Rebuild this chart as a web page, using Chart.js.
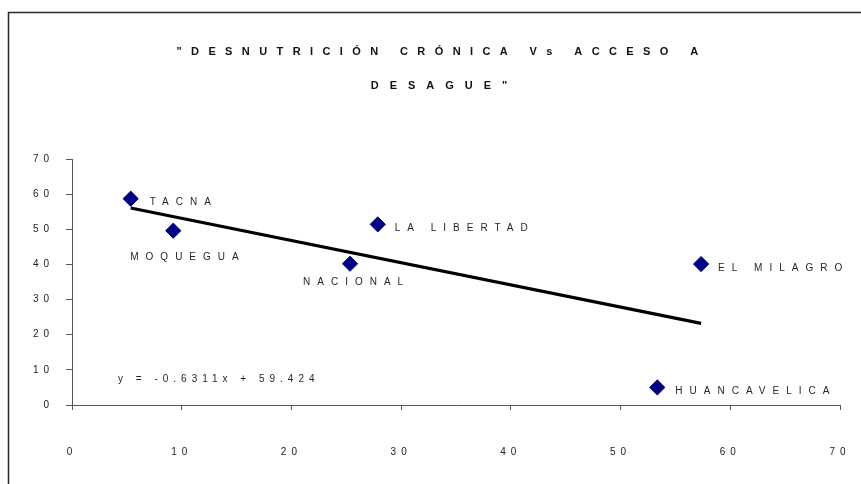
<!DOCTYPE html>
<html>
<head>
<meta charset="utf-8">
<title>Desnutrición crónica vs acceso a desagüe</title>
<script src="https://cdn.jsdelivr.net/npm/chart.js@4.4.1/dist/chart.umd.min.js"></script>
<style>
  html, body { margin: 0; padding: 0; background: #ffffff; }
  canvas { display: block; }
</style>
</head>
<body>
<canvas id="grafico" width="861" height="484"></canvas>
<script>
// Regiones y sus valores (eje X: acceso a desagüe, eje Y: desnutrición crónica)
const regiones = ['TACNA', 'MOQUEGUA', 'NACIONAL', 'LA LIBERTAD', 'EL MILAGRO', 'HUANCAVELICA'];
const acceso = [5.35, 9.23, 25.34, 27.87, 57.34, 53.35];
const desnutricion = [58.7, 49.6, 40.2, 51.4, 40.1, 5.0];

// Línea de tendencia lineal
const pendiente = -0.6311;
const intercepto = 59.424;

// Marcas de los ejes
const ticksX = [0, 10, 20, 30, 40, 50, 60, 70];
const ticksY = [0, 10, 20, 30, 40, 50, 60, 70];

const tituloLineas = ['"DESNUTRICIÓN CRÓNICA Vs ACCESO A', 'DESAGUE"'];

// Desplazamiento (px) de cada rótulo respecto a su punto: [dx, dy]
const desplazamientoRotulos = [[19, 4], [-43, 27], [-47, 19], [17, 4], [17, 4], [18, 4]];

const FUENTE = '"Liberation Sans", Arial, sans-serif';

const puntos = acceso.map((x, i) => ({ x: x, y: desnutricion[i] }));
const xMin = Math.min(...acceso);
const xMax = Math.max(...acceso);
const tendencia = [
  { x: xMin, y: pendiente * xMin + intercepto },
  { x: xMax, y: pendiente * xMax + intercepto }
];

const marcoYTexto = {
  id: 'marcoYTexto',
  beforeDraw(chart) {
    const ctx = chart.ctx;
    ctx.save();
    ctx.fillStyle = '#ffffff';
    ctx.fillRect(0, 0, chart.width, chart.height);
    ctx.strokeStyle = '#2a2a2a';
    ctx.lineWidth = 1.5;
    ctx.strokeRect(8.5, 12.5, chart.width + 20, chart.height + 20);
    ctx.restore();
    // espaciado de letras para los rótulos de los ejes
    ctx.letterSpacing = '5px';
  },
  afterDatasetsDraw(chart) {
    const ctx = chart.ctx;
    const meta = chart.getDatasetMeta(1);
    ctx.save();
    ctx.letterSpacing = '7px';
    ctx.font = '10px ' + FUENTE;
    ctx.fillStyle = '#262626';
    ctx.textAlign = 'left';
    ctx.textBaseline = 'middle';
    meta.data.forEach((el, i) => {
      const [dx, dy] = desplazamientoRotulos[i];
      ctx.fillText(regiones[i], el.x + dx, el.y + dy);
    });

    // ecuación de la recta
    const area = chart.chartArea;
    ctx.letterSpacing = '5px';
    const signo = intercepto >= 0 ? '+' : '-';
    const ecuacion = 'y = ' + pendiente.toFixed(4) + 'x ' + signo + ' ' + Math.abs(intercepto).toFixed(3);
    ctx.fillText(ecuacion, area.left + 46, area.bottom - 25.5);
    ctx.restore();
  },
  afterDraw(chart) {
    const ctx = chart.ctx;
    ctx.save();
    ctx.font = 'bold 11px ' + FUENTE;
    ctx.fillStyle = '#111111';
    ctx.textAlign = 'center';
    ctx.textBaseline = 'middle';
    ctx.letterSpacing = '9.4px';
    ctx.fillText(tituloLineas[0], 442, 52);
    ctx.letterSpacing = '11px';
    ctx.fillText(tituloLineas[1], 444.5, 85.5);
    ctx.restore();
    ctx.letterSpacing = '0px';
  }
};

new Chart(document.getElementById('grafico'), {
  type: 'scatter',
  data: {
    datasets: [
      {
        type: 'line',
        label: 'Tendencia',
        data: tendencia,
        borderColor: '#000000',
        borderWidth: 3.2,
        pointRadius: 0,
        fill: false,
        order: 2
      },
      {
        label: 'Regiones',
        data: puntos,
        pointStyle: 'rectRot',
        pointRadius: 7.6,
        pointBackgroundColor: '#000080',
        pointBorderColor: '#000080',
        pointBorderWidth: 1,
        order: 1
      }
    ]
  },
  options: {
    responsive: false,
    devicePixelRatio: 1,
    animation: false,
    events: [],
    layout: { padding: { left: 0, right: 21, top: 159, bottom: 0 } },
    plugins: {
      legend: { display: false },
      title: { display: false },
      tooltip: { enabled: false }
    },
    scales: {
      x: {
        type: 'linear',
        min: 0,
        max: 70,
        afterBuildTicks(scale) { scale.ticks = ticksX.map(v => ({ value: v })); },
        afterFit(scale) {
          scale.height = 79;
          scale.paddingLeft = 0;
          scale.paddingRight = 0;
        },
        ticks: {
          padding: 36,
          color: '#222222',
          font: { family: FUENTE, size: 10 }
        },
        grid: {
          drawOnChartArea: false,
          drawTicks: true,
          tickLength: 5,
          color: '#555555'
        },
        border: { display: true, color: '#555555', width: 1 }
      },
      y: {
        type: 'linear',
        min: 0,
        max: 70,
        afterBuildTicks(scale) { scale.ticks = ticksY.map(v => ({ value: v })); },
        afterFit(scale) { scale.width = 72; },
        ticks: {
          padding: 12,
          color: '#222222',
          font: { family: FUENTE, size: 10 }
        },
        grid: {
          drawOnChartArea: false,
          drawTicks: true,
          tickLength: 6,
          color: '#555555'
        },
        border: { display: true, color: '#555555', width: 1 }
      }
    }
  },
  plugins: [marcoYTexto]
});
</script>
</body>
</html>
